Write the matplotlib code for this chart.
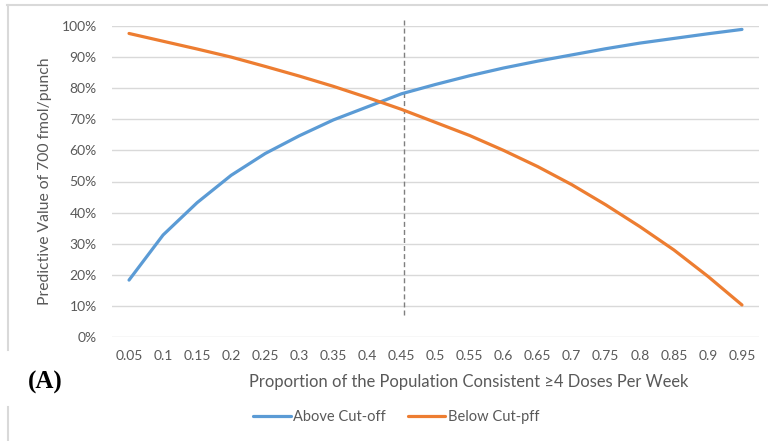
import matplotlib
matplotlib.use("Agg")
import matplotlib.pyplot as plt
from matplotlib.lines import Line2D
from matplotlib.ticker import PercentFormatter

# Proportion of population consistent with >=4 doses per week
proportion = [0.05, 0.10, 0.15, 0.20, 0.25, 0.30, 0.35, 0.40, 0.45, 0.50,
              0.55, 0.60, 0.65, 0.70, 0.75, 0.80, 0.85, 0.90, 0.95]
proportion_labels = ["0.05", "0.1", "0.15", "0.2", "0.25", "0.3", "0.35", "0.4", "0.45", "0.5",
                     "0.55", "0.6", "0.65", "0.7", "0.75", "0.8", "0.85", "0.9", "0.95"]

# Predictive value of the 700 fmol/punch cut-off
above_cutoff = [0.183, 0.328, 0.432, 0.520, 0.590, 0.647, 0.698, 0.740, 0.782, 0.812,
                0.840, 0.865, 0.887, 0.907, 0.927, 0.945, 0.960, 0.975, 0.989]
below_cutoff = [0.976, 0.951, 0.926, 0.900, 0.870, 0.839, 0.806, 0.770, 0.732, 0.690,
                0.648, 0.600, 0.548, 0.490, 0.425, 0.355, 0.280, 0.195, 0.103]

cutoff_marker = 0.454
legend_labels = ["Above Cut-off", "Below Cut-pff"]

plt.rcParams["font.family"] = ["Lato", "DejaVu Sans"]
TEXT = "#595959"
GRID = "#D9D9D9"
BLUE = "#5B9BD5"
ORANGE = "#ED7D31"

W, H = 768, 441
fig = plt.figure(figsize=(W / 100, H / 100), dpi=100)
ax = fig.add_axes([112 / W, 1 - 337 / H, (759 - 112) / W, (337 - 26) / H])

ax.plot(proportion, above_cutoff, color=BLUE, lw=2.3, solid_capstyle="round",
        label=legend_labels[0], zorder=3)
ax.plot(proportion, below_cutoff, color=ORANGE, lw=2.3, solid_capstyle="round",
        label=legend_labels[1], zorder=3)

# vertical reference line
ax.plot([cutoff_marker, cutoff_marker], [0.07, 1.02], color="#7F7F7F", lw=1.0,
        dashes=(3.6, 2.2), clip_on=False, zorder=2)

ax.set_xlim(0.025, 0.975)
ax.set_ylim(0, 1)
ax.set_xticks(proportion)
ax.set_xticklabels(proportion_labels)
ax.set_yticks([i / 10 for i in range(11)])
ax.yaxis.set_major_formatter(PercentFormatter(1.0, decimals=0))
ax.tick_params(axis="both", length=0, labelsize=10, labelcolor=TEXT)
ax.tick_params(axis="y", pad=11)
ax.tick_params(axis="x", pad=9)
ax.grid(axis="y", color=GRID, lw=1.0)
ax.set_axisbelow(True)
for s in ax.spines.values():
    s.set_visible(False)

fig.text(45 / W, 1 - 181 / H, "Predictive Value of 700 fmol/punch", rotation=90,
         ha="center", va="center", fontsize=11.3, color=TEXT)
fig.text(469 / W, 1 - 382 / H, "Proportion of the Population Consistent \u22654 Doses Per Week",
         ha="center", va="center", fontsize=11.9, color=TEXT)
fig.text(45 / W, 1 - 382 / H, "(A)", ha="center", va="center", fontsize=18,
         fontweight="bold", family=["Liberation Serif"], color="black")

fig.legend(loc="center", bbox_to_anchor=(396 / W, 1 - 417 / H), ncol=2, frameon=False,
           fontsize=10.5, labelcolor=TEXT, handlelength=2.6, handletextpad=0.15,
           columnspacing=1.5)

# frame edges of the chart boxes
for xs, ys in [([7, W], [5, 5]), ([7.5, 7.5], [5, 350]), ([7.5, 7.5], [407, H])]:
    fig.add_artist(Line2D([x / W for x in xs], [1 - y / H for y in ys],
                          color=GRID, lw=1.5, transform=fig.transFigure))

fig.savefig("out.png", dpi=100, facecolor="white")
